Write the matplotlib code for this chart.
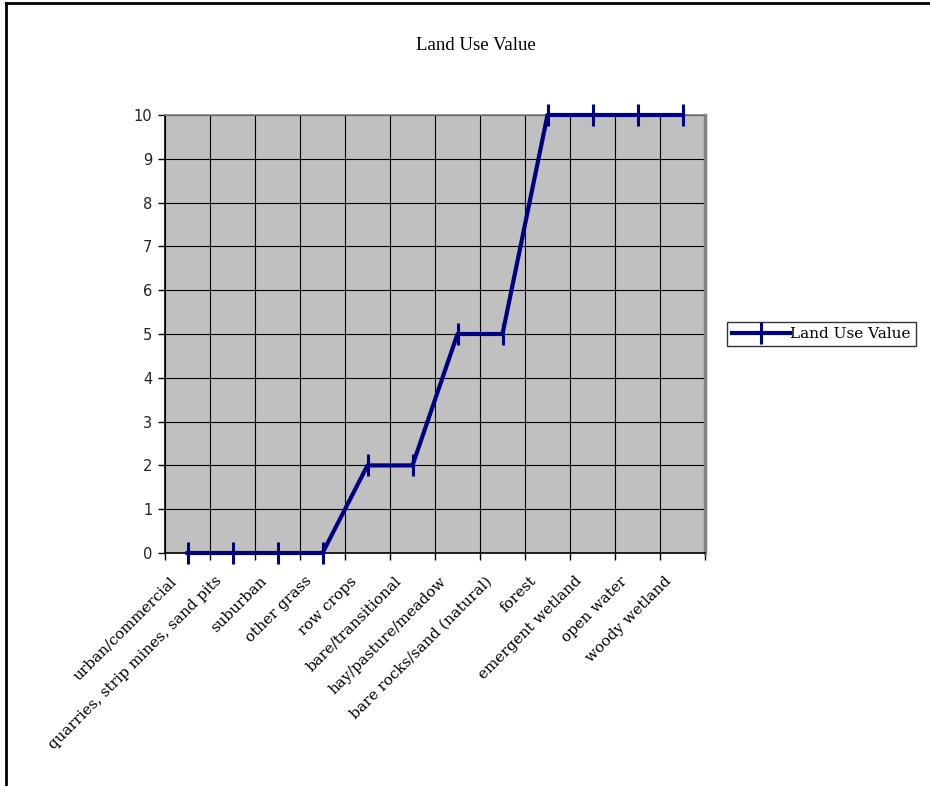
import matplotlib.pyplot as plt
import matplotlib.transforms as mtransforms
from matplotlib.lines import Line2D

# data
categories = ["urban/commercial", "quarries, strip mines, sand pits", "suburban",
              "other grass", "row crops", "bare/transitional", "hay/pasture/meadow",
              "bare rocks/sand (natural)", "forest", "emergent wetland",
              "open water", "woody wetland"]
values = [0, 0, 0, 0, 2, 2, 5, 5, 10, 10, 10, 10]
yticks = list(range(0, 11))

fig = plt.figure(figsize=(9.3, 7.86), dpi=100)
ax = fig.add_axes([165 / 930, 1 - 553 / 786, 540 / 930, 438 / 786])

ax.set_facecolor("#C0C0C0")
x = list(range(len(categories)))
ax.plot(x, values, color="#000080", linewidth=3, marker="|",
        markersize=16, markeredgewidth=2.2, label="Land Use Value",
        zorder=3, clip_on=False)

ax.set_xlim(-0.5, len(categories) - 0.5)
ax.set_ylim(0, 10)
ax.set_yticks(yticks)
ax.set_xticks([i - 0.5 for i in range(len(categories) + 1)])
ax.set_xticklabels([])
ax.tick_params(axis="x", length=5, width=1, direction="out")
ax.tick_params(axis="y", length=5, width=1, direction="out", labelsize=10.5, pad=4)
for lab in ax.get_yticklabels():
    lab.set_family("DejaVu Sans")
    lab.set_color("#222222")

# category labels, rotated, shifted left of the point like the original
offset = mtransforms.ScaledTranslation(-0.18, -0.21, fig.dpi_scale_trans)
trans = ax.get_xaxis_transform() + offset
for xi, name in zip(x, categories):
    ax.text(xi, 0, name, transform=trans, rotation=45, rotation_mode="anchor",
            ha="right", va="top", family="DejaVu Serif", fontsize=10.8)

ax.grid(True, color="black", linewidth=0.8)
ax.set_axisbelow(True)

for side in ["left", "bottom"]:
    ax.spines[side].set_color("black")
    ax.spines[side].set_linewidth(1.2)
ax.spines["top"].set_color("#808080")
ax.spines["top"].set_linewidth(1.2)
ax.spines["right"].set_color("#808080")
ax.spines["right"].set_linewidth(2.5)

fig.text(476 / 930, 1 - 45 / 786, "Land Use Value", ha="center", va="center",
         family="Liberation Serif", fontsize=13.5)

leg = ax.legend(loc="center left", bbox_to_anchor=((727 - 165) / 540, 0.5),
                frameon=True, fancybox=False, edgecolor="black",
                prop={"family": "DejaVu Serif", "size": 11},
                handlelength=3.8, handletextpad=0.0, borderpad=0.35,
                borderaxespad=0)
leg.get_frame().set_linewidth(1)

# outer chart border (left and top edges visible)
fig.add_artist(Line2D([6 / 930, 6 / 930], [0, 1 - 3 / 786], color="black", linewidth=2))
fig.add_artist(Line2D([6 / 930, 1], [1 - 3 / 786, 1 - 3 / 786], color="black", linewidth=2))

fig.savefig("out.png", dpi=100)
